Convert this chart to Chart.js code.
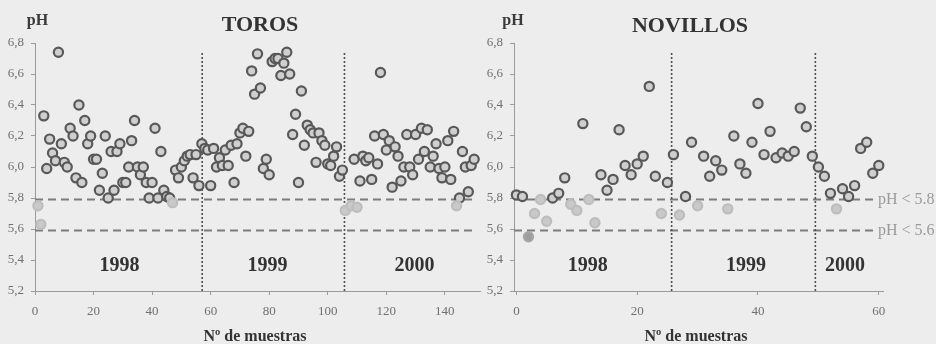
<!DOCTYPE html>
<html><head><meta charset="utf-8">
<script src="https://cdn.jsdelivr.net/npm/chart.js@4.4.0/dist/chart.umd.min.js"></script>
<style>
html,body{margin:0;padding:0;background:#ededed;}
#wrap{position:relative;width:936px;height:344px;overflow:hidden;background:#ededed;}
canvas{position:absolute;top:0;}
#c1{left:0px} #c2{left:436px}
</style></head><body>
<div id="wrap"><canvas id="c1" width="500" height="344"></canvas><canvas id="c2" width="500" height="344"></canvas></div>
<script>
// ---------------- DATA ----------------
const chartTitles = ['TOROS', 'NOVILLOS'];
const axisTitleY = 'pH';
const axisTitleX = 'Nº de muestras';
const yearLabels = ['1998', '1999', '2000'];
const thresholdValues = [5.79, 5.59];
const thresholdLabels = ['pH < 5.8', 'pH < 5.6'];
const yTickMin = 5.2, yTickMax = 6.8, yTickStep = 0.2;
const xTickStep = 20;

// TOROS
const torosSample = [3,4,5,6,7,8,9,10,11,12,13,14,15,16,17,18,19,20,21,22,23,24,25,26,27,28,29,30,31,32,33,34,35,36,37,38,39,40,41,42,43,44,45,46,
  48,49,50,51,52,53,54,55,56,57,58,59,60,61,62,63,64,65,66,67,68,69,70,71,72,73,74,75,76,77,78,79,80,81,82,83,84,85,86,87,88,89,90,91,92,93,94,95,96,97,98,99,100,101,102,103,104,105,
  109,111,112,113,114,115,116,117,118,119,120,121,122,123,124,125,126,127,128,129,130,131,132,133,134,135,136,137,138,139,140,141,142,143,
  145,146,147,148,149,150];
const torosPH = [6.33,5.99,6.18,6.09,6.04,6.74,6.15,6.03,6.00,6.25,6.20,5.93,6.40,5.90,6.30,6.15,6.20,6.05,6.05,5.85,5.96,6.20,5.80,6.10,5.85,6.10,6.15,5.90,5.90,6.00,6.17,6.30,6.00,5.95,6.00,5.90,5.80,5.90,6.25,5.80,6.10,5.85,5.81,5.80,
  5.98,5.93,6.00,6.04,6.07,6.08,5.93,6.08,5.88,6.15,6.12,6.11,5.88,6.12,6.00,6.06,6.01,6.11,6.01,6.14,5.90,6.15,6.22,6.25,6.07,6.23,6.62,6.47,6.73,6.51,5.99,6.05,5.95,6.68,6.70,6.70,6.59,6.67,6.74,6.60,6.21,6.34,5.90,6.49,6.14,6.27,6.24,6.22,6.03,6.22,6.17,6.14,6.02,6.01,6.07,6.13,5.94,5.98,
  6.05,5.91,6.07,6.04,6.06,5.92,6.20,6.02,6.61,6.21,6.11,6.17,5.87,6.13,6.07,5.91,6.00,6.21,6.00,5.95,6.21,6.05,6.25,6.10,6.24,6.00,6.07,6.15,5.99,5.93,6.00,6.17,5.92,6.23,
  5.80,6.10,6.00,5.84,6.01,6.05];
const torosLowSample = [1,2,47,106,108,110,144];
const torosLowPH = [5.75,5.63,5.77,5.72,5.75,5.74,5.75];
const torosYearBreaks = [57.1, 105.7];

// NOVILLOS
const novillosSample = [0,1,6,7,8,11,14,15,16,17,18,19,20,21,22,23,25,26,28,29,31,32,33,34,36,37,38,39,40,41,42,43,44,45,46,47,48,49,50,51,52,54,55,56,57,58,59,60];
const novillosPH = [5.82,5.81,5.80,5.83,5.93,6.28,5.95,5.85,5.92,6.24,6.01,5.95,6.02,6.07,6.52,5.94,5.90,6.08,5.81,6.16,6.07,5.94,6.04,5.98,6.20,6.02,5.96,6.16,6.41,6.08,6.23,6.06,6.09,6.07,6.10,6.38,6.26,6.07,6.00,5.94,5.83,5.86,5.81,5.88,6.12,6.16,5.96,6.01];
const novillosLowSample = [3,4,5,9,10,12,13,24,27,30,35,53];
const novillosLowPH = [5.70,5.79,5.65,5.76,5.72,5.79,5.64,5.70,5.69,5.75,5.73,5.73];
const novillosMinSample = [2];
const novillosMinPH = [5.55];
const novillosYearBreaks = [25.7, 49.5];

// ---------------- DRAWING ----------------
const SERIF = "'Liberation Serif','Times New Roman',serif";
const pts = (xs, ys) => xs.map((x, i) => ({x: x, y: ys[i]}));

const textPlugin = {
  id: 'texts',
  afterDatasetsDraw(chart, args, opts) {
    const ctx = chart.ctx, xs = chart.scales.x, ys = chart.scales.y;
    (opts.items || []).forEach(it => {
      ctx.save();
      ctx.font = it.font;
      ctx.fillStyle = it.color;
      ctx.textAlign = it.align || 'center';
      ctx.textBaseline = 'middle';
      const px = it.px !== undefined ? it.px : xs.getPixelForValue(it.x);
      const py = it.py !== undefined ? it.py : ys.getPixelForValue(it.y);
      ctx.fillText(it.text, px, py);
      ctx.restore();
    });
  }
};

function pointSet(data, fill, border) {
  return {data: data, pointRadius: 4.6, pointBorderWidth: 2.2, pointBackgroundColor: fill,
    pointBorderColor: border, showLine: false, order: 1, clip: false};
}
function lineSet(data, color, width, dash) {
  return {data: data, showLine: true, pointRadius: 0, borderColor: color, borderWidth: width,
    borderDash: dash, order: 3, clip: false, fill: false};
}

function makeChart(id, o) {
  const datasets = [];
  o.breaks.forEach(b => datasets.push(lineSet([{x: b, y: yTickMin}, {x: b, y: 6.745}], '#505050', 1.6, [2, 2])));
  thresholdValues.forEach(t => datasets.push(lineSet([{x: o.xMin, y: t}, {x: o.dashEnd, y: t}], '#7c7c7c', 2, [8, 5])));
  o.points.forEach(p => datasets.push(p));
  const grid = {display: true, drawOnChartArea: false, drawTicks: true, tickLength: 4, color: '#9a9a9a'};
  const tickFont = {family: SERIF, size: 13};
  return new Chart(document.getElementById(id), {
    type: 'scatter',
    data: {datasets: datasets},
    plugins: [textPlugin],
    options: {
      responsive: false, animation: false, events: [],
      layout: {padding: {top: 43, bottom: 0, left: 0, right: o.padRight}, autoPadding: false},
      plugins: {legend: {display: false}, tooltip: {enabled: false}, title: {display: false},
        texts: {items: o.texts}},
      scales: {
        x: {type: 'linear', min: o.xMin, max: o.xMax,
          afterFit: s => { s.height = 53; },
          ticks: {stepSize: xTickStep, includeBounds: false, padding: 9, color: '#707070', font: tickFont, maxRotation: 0, autoSkip: false},
          grid: grid, border: {display: true, color: '#9a9a9a', width: 1}},
        y: {type: 'linear', min: yTickMin, max: yTickMax,
          afterFit: s => { s.width = o.yWidth; },
          ticks: {stepSize: yTickStep, includeBounds: false, padding: 7, color: '#707070', font: tickFont,
            callback: v => Number(v).toFixed(1).replace('.', ',')},
          grid: grid, border: {display: true, color: '#9a9a9a', width: 1}}
      }
    }
  });
}

const titleFont = 'bold 22px ' + SERIF;
const yearFont = 'bold 20px ' + SERIF;
const labFont = 'bold 16px ' + SERIF;
const yearY = 5.363;

makeChart('c1', {
  xMin: 0, xMax: 152, dashEnd: 149.5, padRight: 20, yWidth: 35, breaks: torosYearBreaks,
  points: [
    pointSet(pts(torosLowSample, torosLowPH), '#c9c9c9', '#bdbdbd'),
    pointSet(pts(torosSample, torosPH), '#cfcfcf', '#585858')
  ],
  texts: [
    {text: chartTitles[0], px: 260, py: 25, font: titleFont, color: '#333'},
    {text: axisTitleY, px: 37.5, py: 21, font: labFont, color: '#3a3a3a'},
    {text: axisTitleX, px: 255, py: 337, font: labFont, color: '#333'},
    {text: yearLabels[0], x: 28.9, y: yearY, font: yearFont, color: '#333'},
    {text: yearLabels[1], x: 79.4, y: yearY, font: yearFont, color: '#333'},
    {text: yearLabels[2], x: 129.6, y: yearY, font: yearFont, color: '#333'}
  ]
});

makeChart('c2', {
  xMin: -0.4, xMax: 60.7, dashEnd: 59.7, padRight: 53, yWidth: 78, breaks: novillosYearBreaks,
  points: [
    pointSet(pts(novillosLowSample, novillosLowPH), '#c9c9c9', '#bdbdbd'),
    pointSet(pts(novillosMinSample, novillosMinPH), '#9e9e9e', '#a6a6a6'),
    pointSet(pts(novillosSample, novillosPH), '#cfcfcf', '#585858')
  ],
  texts: [
    {text: chartTitles[1], px: 254, py: 26, font: titleFont, color: '#333'},
    {text: axisTitleY, px: 77, py: 21, font: labFont, color: '#3a3a3a'},
    {text: axisTitleX, px: 260, py: 337, font: labFont, color: '#333'},
    {text: yearLabels[0], x: 11.8, y: yearY, font: yearFont, color: '#333'},
    {text: yearLabels[1], x: 38.0, y: yearY, font: yearFont, color: '#333'},
    {text: yearLabels[2], x: 54.4, y: yearY, font: yearFont, color: '#333'},
    {text: thresholdLabels[0], px: 442, y: thresholdValues[0], align: 'left', font: '16px ' + SERIF, color: '#9a9a9a'},
    {text: thresholdLabels[1], px: 442, y: thresholdValues[1], align: 'left', font: '16px ' + SERIF, color: '#9a9a9a'}
  ]
});
</script></body></html>
